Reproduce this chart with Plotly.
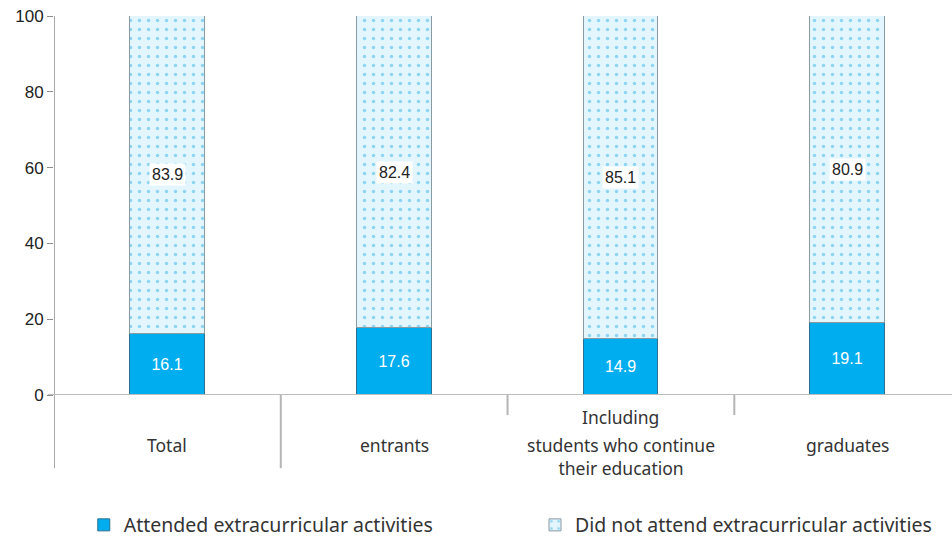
import plotly.graph_objects as go

# Share of students by extracurricular participation (%)
categories = ["Total", "entrants", "Including<br>students who continue<br>their education", "graduates"]
attended = [16.1, 17.6, 14.9, 19.1]
not_attended = [83.9, 82.4, 85.1, 80.9]
y_ticks = [0, 20, 40, 60, 80, 100]

x_pos = list(range(len(categories)))
LABEL_FONT = "Noto Sans"
NUM_FONT = "Liberation Sans, Arial, sans-serif"

fig = go.Figure()
fig.add_trace(go.Bar(
    x=x_pos, y=attended, name="Attended extracurricular activities",
    width=0.33, legend="legend",
    marker=dict(color="#00aeef", line=dict(color="#2a6f8f", width=1)),
    text=[f"{v:.1f}" for v in attended], textposition="inside",
    insidetextanchor="middle",
    textfont=dict(color="white", size=16, family=NUM_FONT),
    hoverinfo="skip",
))
fig.add_trace(go.Bar(
    x=x_pos, y=not_attended, name="Did not attend extracurricular activities",
    width=0.33, legend="legend2",
    marker=dict(color="#e3f5fd",
                line=dict(color="#8a9aa3", width=1),
                pattern=dict(shape=".", fgcolor="#3ab4ea", bgcolor="#e3f5fd",
                             size=9, solidity=0.12)),
    hoverinfo="skip",
))

# value labels for the upper segment, on a white box
for xi, a, n in zip(x_pos, attended, not_attended):
    fig.add_annotation(x=xi, y=a + n / 2, text=f"{n:.1f}", showarrow=False,
                       bgcolor="white", borderpad=2,
                       font=dict(size=16, color="#222", family=NUM_FONT))

# category labels under the baseline; the first line of a multi-line label
# sits in its own row, the rest is drawn as one block below it
label_font = dict(size=17.5, color="#333", family=LABEL_FONT)
for xi, c in zip(x_pos, categories):
    lines = c.split("<br>")
    if len(lines) == 1:
        rows = [(-0.132, lines[0])]
    else:
        rows = [(-0.058, lines[0]), (-0.162, "<br>".join(lines[1:]))]
    for yy, txt in rows:
        fig.add_annotation(x=xi, y=yy, yref="paper", yanchor="middle", text=txt,
                           showarrow=False, align="center", font=label_font)

# table separators below the axis
line_style = dict(color="#b5b5b5", width=2)
fig.add_shape(type="line", xref="x", yref="paper", x0=-0.5, x1=-0.5, y0=1, y1=-0.193,
              line=dict(color="#8c8c8c", width=1.5))
fig.add_shape(type="line", xref="x", yref="paper", x0=0.5, x1=0.5, y0=0, y1=-0.193, line=line_style)
fig.add_shape(type="line", xref="x", yref="paper", x0=1.5, x1=1.5, y0=0, y1=-0.053, line=line_style)
fig.add_shape(type="line", xref="x", yref="paper", x0=2.5, x1=2.5, y0=0, y1=-0.053, line=line_style)
fig.add_shape(type="line", xref="paper", yref="y", x0=-0.007, x1=1, y0=0, y1=0,
              line=dict(color="#bdbdbd", width=2))

legend_common = dict(orientation="h", xref="container", yref="container",
                     y=0.022, yanchor="middle", xanchor="left",
                     font=dict(size=19.5, color="#333", family=LABEL_FONT),
                     bgcolor="rgba(0,0,0,0)")

fig.update_layout(
    barmode="stack",
    width=952, height=537,
    margin=dict(l=54, r=0, t=16, b=142),
    plot_bgcolor="white", paper_bgcolor="white",
    bargap=0,
    xaxis=dict(range=[-0.5, 3.46], showticklabels=False, showgrid=False,
               zeroline=False, showline=False, ticks=""),
    yaxis=dict(range=[0, 100], tickvals=y_ticks, showgrid=False, zeroline=False,
               showline=False, ticks="outside", ticklen=6, tickcolor="#8c8c8c",
               tickfont=dict(size=17, color="#222", family=NUM_FONT)),
    legend=dict(x=0.088, **legend_common),
    legend2=dict(x=0.562, **legend_common),
    showlegend=True,
)

fig.write_html("out.html")
